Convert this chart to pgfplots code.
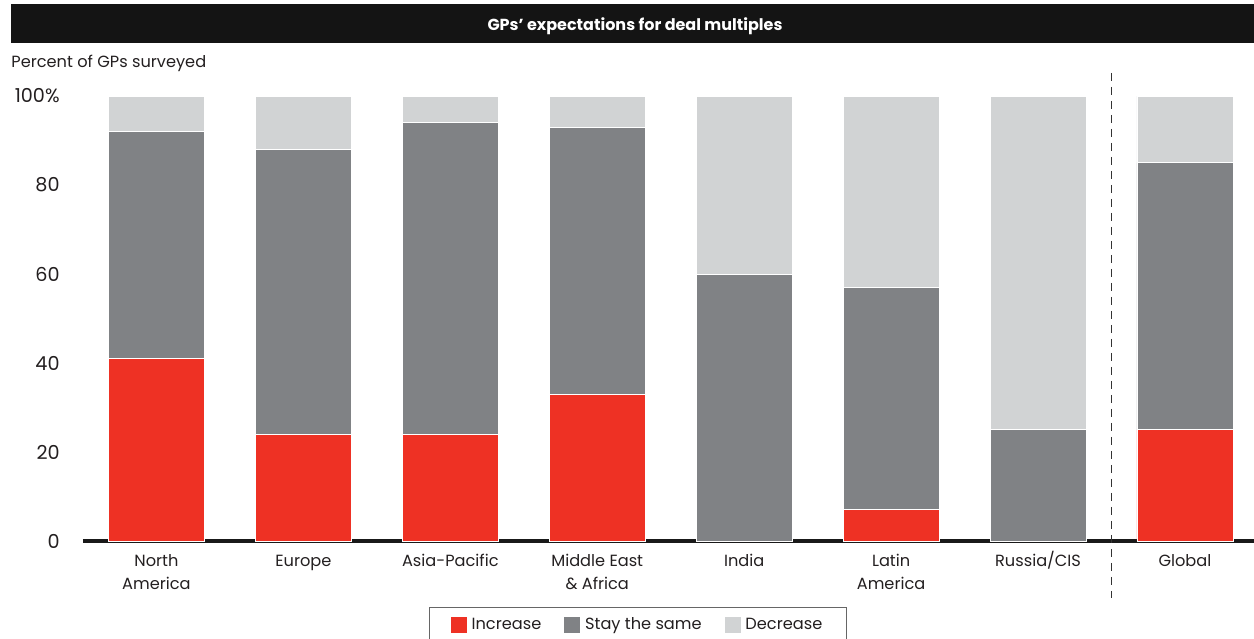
\documentclass[border=0pt]{standalone}
\usepackage{pgfplots}
\pgfplotsset{compat=1.18}
\usepackage{fontspec}
\setmainfont{Poppins}
\definecolor{bred}{HTML}{EE3124}
\definecolor{bdark}{HTML}{808285}
\definecolor{blight}{HTML}{D1D3D4}
\definecolor{btext}{HTML}{231F20}
\begin{document}
\begin{tikzpicture}[font=\fontsize{8.1pt}{11.5pt}\selectfont, text=btext]
\begin{axis}[
  at={(0,0)}, anchor=south west,
  scale only axis, width=585.5pt, height=222.5pt,
  ybar stacked, bar width=48pt,
  xmin=-0.5, xmax=7.47, ymin=0, ymax=100,
  axis x line*=bottom,
  axis y line*=left,
  y axis line style={draw=none},
  x axis line style={line width=2pt, black!90, -},
  xtick={0,...,7},
  xticklabels={\strut North\\America, \strut Europe, \strut Asia-Pacific, \strut Middle East\\\& Africa, \strut India, \strut Latin\\America, \strut Russia/CIS, \strut Global},
  xticklabel style={align=center, anchor=north, inner sep=0pt, yshift=-4.5pt, text=btext, font=\fontsize{8.1pt}{11.5pt}\selectfont},
  major tick length=0pt,
  ytick={0,20,40,60,80,100},
  yticklabels={0,20,40,60,80,100\%},
  yticklabel style={anchor=east, inner sep=0pt, xshift=-11.5pt, text=btext, font=\fontsize{9.6pt}{11pt}\selectfont},
  /pgf/number format/assume math mode=true,
  clip=false,
  legend style={at={(0.474,-0.148)}, anchor=north, legend columns=3, draw=black!60, line width=0.6pt,
    /tikz/every even column/.append style={column sep=9pt},
    inner xsep=10pt, inner ysep=3pt, font=\fontsize{8.1pt}{11pt}\selectfont},
  legend image code/.code={\fill[#1] (0pt,-4.25pt) rectangle (8.5pt,4.25pt);},
]
\addplot[fill=bred, draw=white, line width=0.4pt] coordinates {(0,41) (1,24) (2,24) (3,33) (4,0) (5,7) (6,0) (7,25)};
\addplot[fill=bdark, draw=white, line width=0.4pt] coordinates {(0,51) (1,64) (2,70) (3,60) (4,60) (5,50) (6,25) (7,60)};
\addplot[fill=blight, draw=white, line width=0.4pt] coordinates {(0,8) (1,12) (2,6) (3,7) (4,40) (5,43) (6,75) (7,15)};
\legend{Increase, Stay the same, Decrease}
\draw[black!80, line width=0.6pt, dash pattern=on 4pt off 3pt] (axis cs:6.5,105.2) -- (axis cs:6.5,-12.8);
\end{axis}
\fill[black!92] (-36pt,249pt) rectangle (585.5pt,268.5pt);
\node[text=white, font=\fontsize{8pt}{11pt}\selectfont\bfseries] at (276pt,257.5pt) {GPs’ expectations for deal multiples};
\node[anchor=west, inner sep=0pt] at (-36pt,239pt) {Percent of GPs surveyed};
\pgfresetboundingbox
\path[use as bounding box] (-41.5pt,-48.5pt) rectangle (585.5pt,270.5pt);
\end{tikzpicture}
\end{document}
